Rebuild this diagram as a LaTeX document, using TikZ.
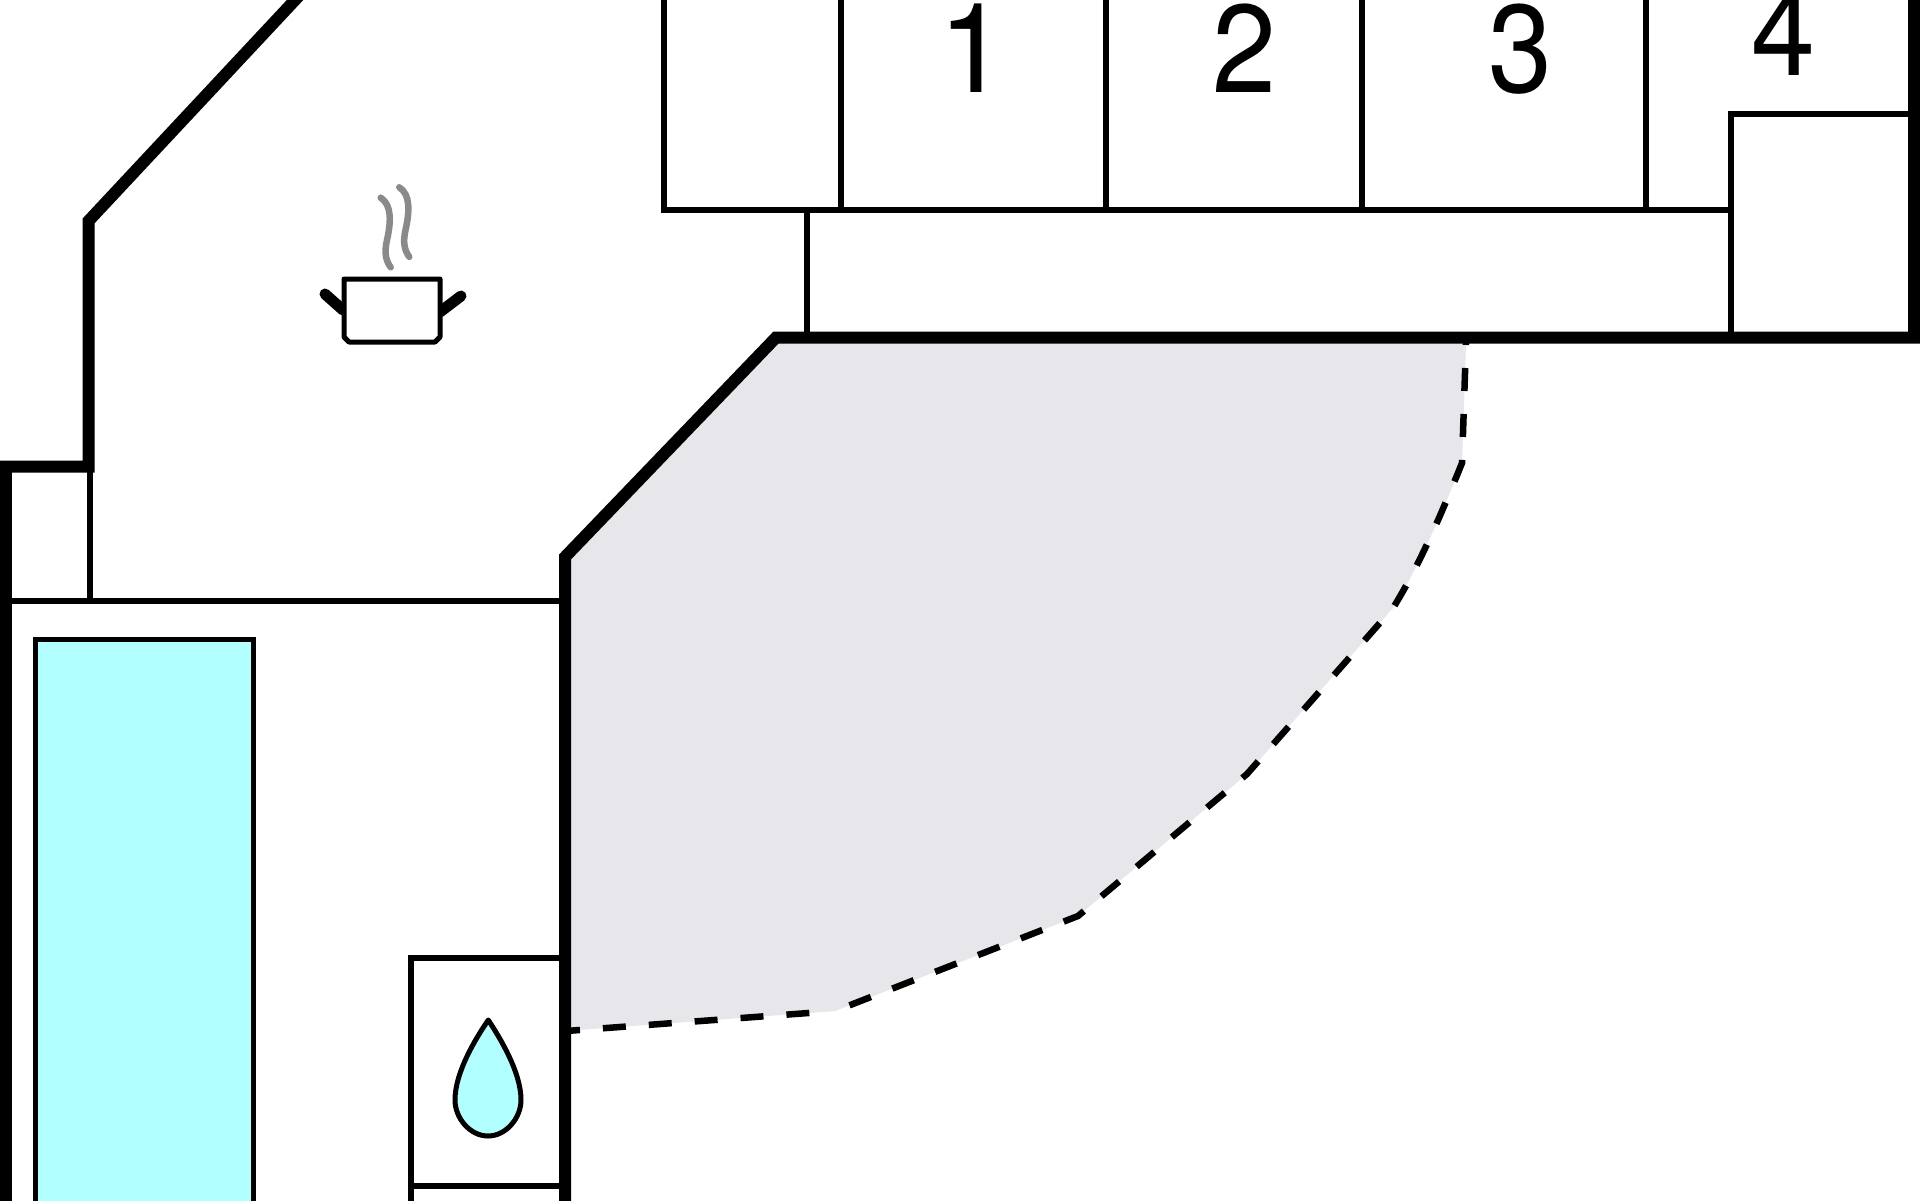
\documentclass[tikz,border=0pt]{standalone}
\usepackage{fontspec}
\setmainfont{TeX Gyre Heros}
\definecolor{poolblue}{HTML}{B2FFFF}
\definecolor{terrace}{HTML}{E6E6EB}
\definecolor{steam}{HTML}{8A8A8A}
\tikzset{
  wall/.style={draw=black,line width=12pt,miter limit=10},
  thinwall/.style={draw=black,line width=6pt},
  icon/.style={draw=black,line width=5pt,line join=round},
  steamline/.style={draw=steam,line width=6.5pt,line cap=round},
  handle/.style={draw=black,line width=11pt},
  dashline/.style={draw=black,line width=6.5pt,dash pattern=on 23pt off 23pt},
  roomno/.style={inner sep=0pt,anchor=base,font=\fontsize{125}{125}\selectfont}
}
\begin{document}
\begin{tikzpicture}[x=1pt,y=-1pt]
\useasboundingbox (0,0) rectangle (1920,1200);
\clip (0,0) rectangle (1920,1200);
\fill[white] (0,0) rectangle (1920,1200);
% terrace
\fill[terrace] (565,1031) -- (565,558) -- (776,337.5) -- (1466,337.5) -- (1466,343)
  -- (1462,463) .. controls (1445,505) and (1420,565) .. (1393,608) -- (1247,774) -- (1078,916) -- (835,1011) -- cycle;
\draw[dashline,dash phase=21pt]
  (1466,343) -- (1462,463) .. controls (1445,505) and (1420,565) .. (1393,608) -- (1247,774) -- (1078,916) -- (835,1011);
\draw[dashline,dash phase=9pt] (566,1031) -- (826,1011.7);
% pool
\filldraw[fill=poolblue,draw=black,line width=5pt] (35.5,1215) -- (35.5,639) -- (253.5,639) -- (253.5,1215);
% thin walls
\draw[thinwall] (12,601) -- (560,601);
\draw[thinwall] (89.5,470) -- (89.5,601);
\draw[thinwall] (663.7,-10) -- (663.7,210) -- (1731,210);
\draw[thinwall] (841,-10) -- (841,210);
\draw[thinwall] (1105.7,-10) -- (1105.7,210);
\draw[thinwall] (1362,-10) -- (1362,210);
\draw[thinwall] (1645.7,-10) -- (1645.7,210);
\draw[thinwall] (807,210) -- (807,337);
\draw[thinwall] (1731,337) -- (1731,114) -- (1910,114);
\draw[thinwall] (411,1210) -- (411,958) -- (560,958);
\draw[thinwall] (411,1186) -- (560,1186);
% thick walls
\draw[wall] (5.75,1215) -- (5.75,466.5) -- (88.5,466.5) -- (88.5,221) -- (304.4,-10);
\draw[wall] (565,1215) -- (565,557) -- (776,337.5) -- (1914,337.5) -- (1914,-10);
% room numbers
\node[roomno] (n1) at (973,92) {1};
\node[roomno] (n2) at (1244,92) {\scalebox{0.92}[1]{2}};
\node[roomno] (n3) at (1520,92) {\scalebox{0.92}[1]{3}};
\node[roomno] (n4) at (1783,75) {\scalebox{0.92}[1]{4}};
% pot
\draw[handle,line cap=round] (343,310) -- (325,294);
\draw[handle,line cap=round] (440,312) -- (461,296);
\filldraw[icon,fill=white] (344,279) -- (440,279) -- (440,337) -- (435,342) -- (349,342) -- (344,337) -- cycle;
\draw[steamline] (380.7,197.7) .. controls (392,205) and (391,222) .. (387,240) .. controls (384,253) and (386,261) .. (390.7,267.3);
\draw[steamline] (399.3,187.3) .. controls (410.6,194.6) and (409.6,211.6) .. (405.6,229.6) .. controls (402.6,242.6) and (404.6,250.6) .. (409.3,256.9);
% drop
\filldraw[icon,fill=poolblue,miter limit=10] (488.3,1020) .. controls (476,1038) and (455,1072) .. (455,1100)
  .. controls (455,1118) and (470,1136) .. (488,1136)
  .. controls (506,1136) and (521,1118) .. (521,1100)
  .. controls (521,1072) and (500,1038) .. (488.3,1020) -- cycle;
\end{tikzpicture}
\end{document}
